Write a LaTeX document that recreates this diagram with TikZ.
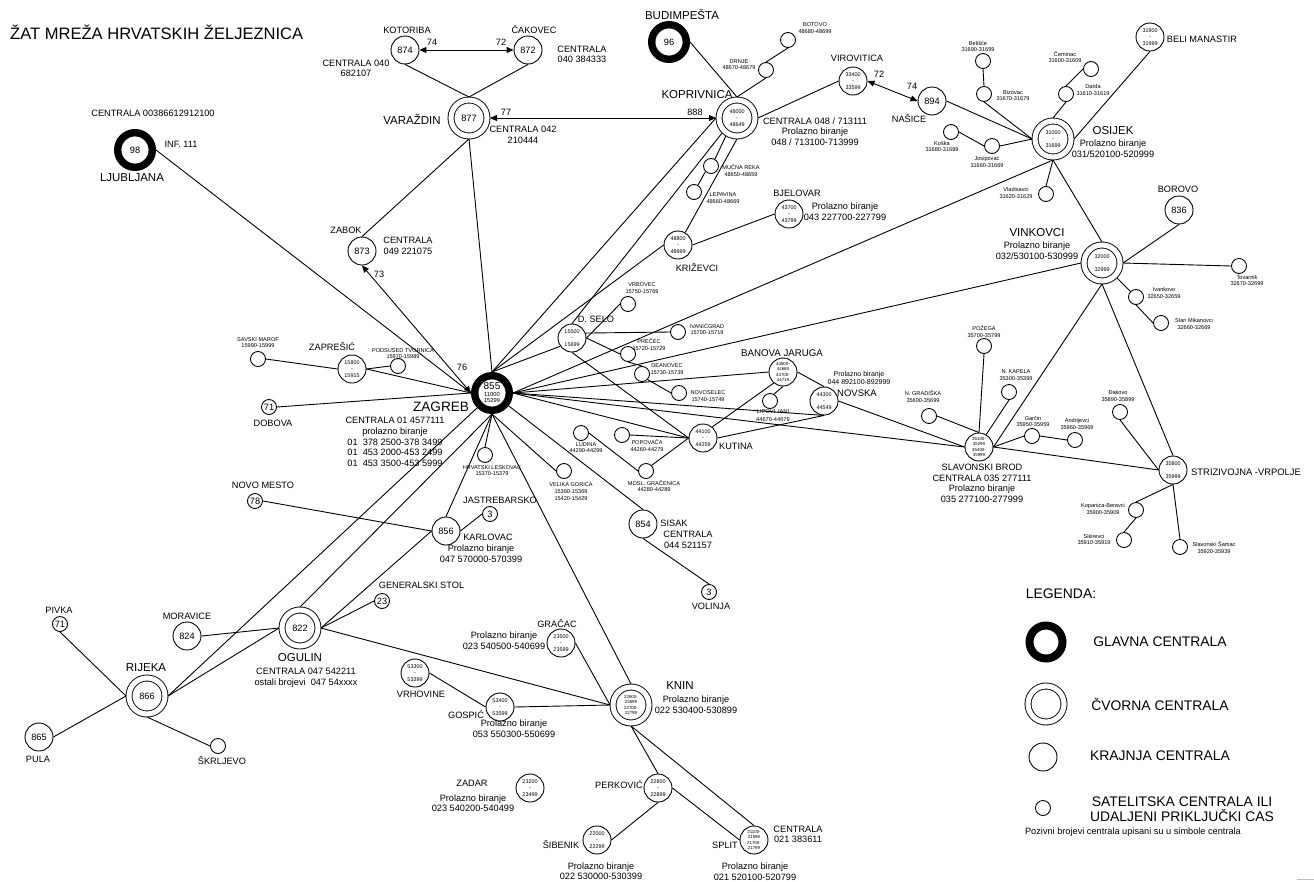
\documentclass[tikz,border=0pt]{standalone}
\usepackage{fontspec}
\setmainfont{Liberation Sans}
\usetikzlibrary{arrows.meta}
\newcommand\fz[2]{\fontsize{#1}{#2}\selectfont}
\newcommand\rng[2]{#1\\-\\#2}
\newcommand\rngf[4]{#1\\#2\\#3\\#4}
\tikzset{
  x=1pt,y=-1pt,
  conn/.style={draw=black,line width=0.9pt},
  biarrow/.style={conn,{Triangle[length=7pt,width=6pt]}-{Triangle[length=7pt,width=6pt]}},
  sat/.style={circle,draw,line width=0.9pt,minimum size=15,inner sep=0,font=\fz{9.2}{10}},
  krj/.style={circle,draw,line width=0.9pt,minimum size=28,inner sep=0,align=center,font=\fz{5.4}{6.7}},
  kfour/.style={krj,font=\fz{4.4}{5.3}},
  num/.style={font=\fz{9.2}{10}},
  cvor/.style={circle,draw,line width=0.9pt,double,double distance=5.1pt,minimum size=36,outer sep=3pt,inner sep=0,align=center,font=\fz{5.4}{6.7}},
  glav/.style={circle,draw,line width=7.4pt,minimum size=34.6,inner sep=0,align=center,font=\fz{9.2}{10}},
  tS/.style={inner sep=0,align=center,font=\fz{5.6}{6.6}},
  tM/.style={inner sep=0,align=center,font=\fz{9.2}{10.6}},
  tL/.style={inner sep=0,align=center,font=\fz{11.5}{13}},
  tB/.style={inner sep=0,align=center,font=\fz{13.6}{15}},
  tN/.style={inner sep=0,align=center,font=\fz{7}{8}},
  tG/.style={inner sep=0,align=center,font=\fz{13.9}{15}}
}
\begin{document}
\begin{tikzpicture}
\useasboundingbox (0,0) rectangle (1314,881);
% ---------- centrals
\node[glav,font=\fz{5.8}{6.5}] (zag) at (492,393) {\lineskiplimit=-100pt {\fz{10}{6.5}855}\\11000\\15299};
\node[glav] (lju) at (135,150) {98};
\node[glav] (bud) at (669,42) {96};
\node[cvor,num] (var) at (469,118) {877};
\node[cvor] (kop) at (737,118) {\rng{48000}{48649}};
\node[cvor] (osi) at (1053,139) {\rng{31000}{31699}};
\node[cvor] (vin) at (1102,263) {\rng{32000}{32999}};
\node[cvor,font=\fz{4.4}{5.3}] (kni) at (631,705) {\rngf{22600-}{22699}{22700-}{22799}};
\node[cvor,num] (ogu) at (300,628) {822};
\node[cvor,num] (rij) at (147,696) {866};
\node[krj,num] (kot) at (405,50) {874};
\node[krj,num] (cak) at (528,50) {872};
\node[krj,num] (zab) at (362,251) {873};
\node[krj,num] (nas) at (932,101) {894};
\node[krj,num] (bor) at (1179,210) {836};
\node[krj,num] (kar) at (446,531) {856};
\node[krj,num] (sis) at (643,524) {854};
\node[krj,num] (mor) at (187,636) {824};
\node[krj,num] (pul) at (39,737) {865};
\node[krj] (vir) at (853,81) {\rng{33400}{33599}};
\node[krj] (bje) at (789,214) {\rng{43700}{43799}};
\node[krj] (kri) at (678,245) {\rng{48800}{48999}};
\node[krj] (bel) at (1150,37) {\rng{31900}{31999}};
\node[krj] (str) at (1173,470) {\rng{35800}{35999}};
\node[krj] (nov) at (824,401) {\rng{44300}{44549}};
\node[krj] (kut) at (703,438) {\rng{44100}{44259}};
\node[krj] (dse) at (572,338) {\rng{15500}{15699}};
\node[krj] (zap) at (352,369) {\rng{15800}{15915}};
\node[krj] (gra) at (561,643) {\rng{23500}{23599}};
\node[krj] (vrh) at (415,673) {\rng{53300}{53399}};
\node[krj] (gos) at (500,707) {\rng{53400}{53599}};
\node[krj] (per) at (658,788) {\rng{22800}{22899}};
\node[krj] (sib) at (597,840) {\rng{22000}{22299}};
\node[krj] (zad) at (530,788) {\rng{23200}{23499}};
\node[kfour] (baj) at (783,372) {\rngf{44600-}{44669}{44700-}{44719}};
\node[kfour] (bro) at (979,447) {\rngf{35100-}{35299}{35400-}{35999}};
\node[kfour] (spl) at (754,840) {\rngf{21100-}{21599}{21700-}{21799}};
\node[sat] (bot) at (788,40) {};
\node[sat] (drn) at (766,70) {};
\node[sat] (muc) at (711,166) {};
\node[sat] (lep) at (694,192) {};
\node[sat] (bls) at (983,61) {};
\node[sat] (biz) at (984,94) {};
\node[sat] (cem) at (1091,69) {};
\node[sat] (dar) at (1066,94) {};
\node[sat] (kos) at (951,132) {};
\node[sat] (jos) at (992,146) {};
\node[sat] (vla) at (1046,194) {};
\node[sat] (tov) at (1239,266) {};
\node[sat] (iva) at (1136,297) {};
\node[sat] (sta) at (1161,323) {};
\node[sat] (pož) at (984,346) {};
\node[sat] (nka) at (1009,392) {};
\node[sat] (ngr) at (929,416) {};
\node[sat] (gar) at (1032,436) {};
\node[sat] (and) at (1075,440) {};
\node[sat] (dak) at (1120,412) {};
\node[sat] (kpn) at (1136,510) {};
\node[sat] (sik) at (1124,540) {};
\node[sat] (sam) at (1180,547) {};
\node[sat] (lip) at (770,401) {};
\node[sat] (nvs) at (679,393) {};
\node[sat] (dea) at (642,374) {};
\node[sat] (pre) at (628,354) {};
\node[sat] (ivg) at (678,332) {};
\node[sat] (vrb) at (628,304) {};
\node[sat] (pop) at (622,435) {};
\node[sat] (lud) at (581,433) {};
\node[sat] (mos) at (646,471) {};
\node[sat] (vgo) at (564,471) {};
\node[sat] (sav) at (258,359) {};
\node[sat] (pod) at (398,366) {};
\node[sat] (hrl) at (485,455) {};
\node[sat] (skr) at (218,746) {};
\node[sat] (dob) at (269,407) {71};
\node[sat] (nme) at (255,501) {78};
\node[sat] (jas) at (490,514) {3};
\node[sat] (vol) at (709,592) {3};
\node[sat] (gen) at (382,601) {23};
\node[sat] (piv) at (60,624) {71};
% ---------- connectors
\draw[biarrow] (kot.east) -- (cak.west);
\draw[biarrow] (var.east) -- (kop.west);
\draw[biarrow] (vir.east) -- (nas.west);
\draw[biarrow] (zab.south) -- (zag.west);
\foreach \a/\b in {lju.east/zag.west, zap.east/zag.west, dob.east/zag.west,
  var.south/zag.north, kop.west/zag.north, kri.west/zag.north, dse.215/zag.north,
  osi.south/zag.east, vin.west/zag.east, baj.west/zag.east, nov.south/zag.east,
  bro.west/zag.east, kut.west/zag.east,
  zag/sis.north, zag.south/vgo.west, zag.south/hrl.north, zag.south/kar.north,
  zag.south/kni.north, zag.south/ogu.north, zag.225/rij.east,
  kot.south/var.north, cak.south/var.north, zab.north/var.south,
  bud.east/kop.north, kop.north/drn.south, drn.north/bot.south, kop.east/vir.west,
  kop.238/muc.60, muc.225/lep.60, kop.south/kri.60, kop.225/dse.north,
  kri.east/bje.west, sav.east/zap.west, zap.east/pod.west,
  nme.east/kar.west, kar.west/ogu.east, kar.east/jas.west,
  ogu.east/gen.west, ogu.east/kni.west, ogu.west/mor.east, ogu.west/rij.east,
  rij.west/piv.south, pul.east/rij.west, rij.south/skr.west,
  gra.east/kni.west, gos.east/kni.west, vrh.east/gos.west,
  kni.south/per.north, kni.south/spl.north, per.east/spl.west, per.south/sib.east,
  sis.south/vol.north,
  dse.east/vrb.west, dse.20/ivg.west, dse.east/pre.west, pre.south/dea.north,
  dea.-45/nvs.west, dse.south/kut.west,
  kut.50/baj.230, baj.south/lip.60, baj.east/nov.north, kut.east/nov.south,
  nov.east/bro.west, pop.east/kut.west, lud.east/mos.west, mos.45/kut.west,
  bro.north/pož.south, bro.north/ngr.east, bro.60/nka.south, bro.east/gar.west,
  gar.east/and.west, bro.east/vin.south, bro.east/str.west,
  vin.south/str.north, dak.south/str.west, str.south/kpn.north, kpn.south/sik.north,
  str.south/sam.north,
  vin.north/osi.south, vin.east/bor.south, vin.east/tov.west, vin.-45/iva.135,
  iva.south/sta.west,
  osi.west/nas.east, osi.west/biz.south, osi.west/jos.east, biz.north/bls.south,
  jos.west/kos.east, osi.north/dar.south, dar.north/cem.west, osi.east/bel.south,
  osi.south/vla.north} {
  \draw[conn] (\a) -- (\b);
}
% ---------- texts
\node[inner sep=0,anchor=west,font=\fz{16.55}{19}] (title) at (10,32) {ŽAT MREŽA HRVATSKIH ŽELJEZNICA};
\node[tM] (l01) at (407,30) {KOTORIBA};
\node[tM] (l02) at (356,68.5) {CENTRALA 040\\682107};
\node[tM] (l03) at (153,113) {CENTRALA 00386612912100};
\node[tM] (l04) at (181,144) {INF. 111};
\node[tL] (l05) at (132,178) {LJUBLJANA};
\node[tL] (l06) at (412,119) {VARAŽDIN};
\node[tM] (l07) at (346,230) {ZABOK};
\node[tM] (l08) at (408,246) {CENTRALA\\049 221075};
\node[tM] (l09) at (379,274) {73};
\node[tM] (l10) at (432,42) {74};
\node[tM] (l11) at (501,42) {72};
\node[tM] (l12) at (534,30) {ČAKOVEC};
\node[tM] (l13) at (582,54.5) {CENTRALA\\040 384333};
\node[tL] (l14) at (682,15) {BUDIMPEŠTA};
\node[tS] (l15) at (815,28) {BOTOVO\\48680-48699};
\node[tS] (l16) at (739,64.5) {DRNJE\\48670-48679};
\node[tM] (l17) at (857,58) {VIROVITICA};
\node[tM] (l18) at (879,74) {72};
\node[tM] (l19) at (912,86) {74};
\node[tL] (l20) at (697,95) {KOPRIVNICA};
\node[tM] (l21) at (506,112) {77};
\node[tM] (l22) at (695,112) {888};
\node[tM] (l23) at (523,135) {CENTRALA 042\\210444};
\node[tM] (l24) at (815,131.5) {CENTRALA 048 / 713111\\Prolazno biranje\\048 / 713100-713999};
\node[tS] (l25) at (741,170.5) {MUČNA REKA\\48650-48659};
\node[tS] (l26) at (723,198) {LEPAVINA\\48660-48669};
\node[tM] (l27) at (797,193) {BJELOVAR};
\node[tM] (l28) at (845,211.5) {Prolazno biranje\\043 227700-227799};
\node[tM] (l29) at (697,268) {KRIŽEVCI};
\node[tS] (l30) at (642,288) {VRBOVEC\\15750-15769};
\node[tS] (l31) at (978,46.5) {Belišće\\31690-31699};
\node[tS] (l32) at (1013,95.5) {Bizovac\\31670-31679};
\node[tS] (l33) at (1065,57) {Čeminac\\31600-31609};
\node[tS] (l34) at (1093,90) {Darda\\31610-31619};
\node[tM] (l35) at (1202,39) {BELI MANASTIR};
\node[tM] (l36) at (909,119) {NAŠICE};
\node[tS] (l37) at (942,146.5) {Koška\\31680-31689};
\node[tS] (l38) at (987,162) {Josipovac\\31660-31669};
\node[tL] (l39) at (1113,131) {OSIJEK};
\node[tM] (l40) at (1113,148.5) {Prolazno biranje\\031/520100-520999};
\node[tS] (l41) at (1016,193) {Vladisavci\\31620-31629};
\node[tM] (l42) at (1178,189) {BOROVO};
\node[tL] (l43) at (1037,233) {VINKOVCI};
\node[tM] (l44) at (1037,250.5) {Prolazno biranje\\032/530100-530999};
\node[tS] (l45) at (1247,280.5) {Tovarnik\\32670-32699};
\node[tS] (l46) at (1164,293) {Ivankovo\\32650-32659};
\node[tS] (l47) at (1194,324) {Stari Mikanovci\\32660-32669};
\node[tS] (l48) at (984,331.5) {POŽEGA\\35700-35799};
\node[tS] (l49) at (1016,375) {N. KAPELA\\35300-35399};
\node[tS] (l50) at (923,396.5) {N. GRADIŠKA\\35600-35699};
\node[tS] (l51) at (1033,421.5) {Garčin\\35950-35959};
\node[tS] (l52) at (1077,424) {Andrijevci\\35960-35969};
\node[tS] (l53) at (1118,396) {Đakovo\\35890-35899};
\node[tM] (l54) at (982,483.5) {SLAVONSKI BROD\\CENTRALA 035 277111\\Prolazno biranje\\035 277100-277999};
\node[tM,anchor=west,font=\fz{9.4}{10.6}] (l55) at (1191,472) {STRIZIVOJNA -VRPOLJE};
\node[tS] (l56) at (1103,509) {Kopanica-Beravci\\35900-35909};
\node[tS] (l57) at (1094,539.5) {Sikirevci\\35910-35919};
\node[tS] (l58) at (1214,547.5) {Slavonski Šamac\\35920-35939};
\node[tN] (l59) at (859,378) {Prolazno biranje\\044 892100-892999};
\node[tM,font=\fz{9.5}{10.6}] (l60) at (857,393) {NOVSKA};
\node[tM,font=\fz{9.7}{10.6}] (l61) at (782,353) {BANOVA JARUGA};
\node[tS,font=\fz{5.7}{8}] (l62) at (773,416) {LIPOVLJANI\\44670-44679};
\node[tM] (l63) at (736,446) {KUTINA};
\node[tM] (l64) at (596,319) {D. SELO};
\node[tS] (l65) at (707,329) {IVANIĆGRAD\\15700-15719};
\node[tS] (l66) at (649,344.5) {PREČEC\\15720-15729};
\node[tS] (l67) at (667,369) {DEANOVEC\\15730-15739};
\node[tS] (l68) at (708,396) {NOVOSELEC\\15740-15749};
\node[tS] (l69) at (647,445.5) {POPOVAČA\\44260-44279};
\node[tS] (l70) at (586,447.5) {LUDINA\\44290-44299};
\node[tS] (l71) at (654,486) {MOSL. GRAČENICA\\44280-44289};
\node[tS] (l72) at (571,491.5) {VELIKA GORICA\\15360-15369\\15420-15429};
\node[tM] (l73) at (332,347) {ZAPREŠIĆ};
\node[tS] (l74) at (258,342.5) {SAVSKI MAROF\\15990-15999};
\node[tS] (l75) at (403,353.5) {PODSUSED TVORNICA\\15970-15989};
\node[tM] (l76) at (462,367) {76};
\node[tB] (l77) at (441,407) {ZAGREB};
\node[tM] (l78) at (273,423) {DOBOVA};
\node[tM] (l79) at (395,442) {CENTRALA 01 4577111\\prolazno biranje\\01~~378 2500-378 3499\\01~~453 2000-453 2499\\01~~453 3500-453 5999};
\node[tM] (l80) at (263,485) {NOVO MESTO};
\node[tS] (l81) at (492,470.5) {HRVATSKI LESKOVAC\\15370-15379};
\node[tM] (l82) at (500,500) {JASTREBARSKO};
\node[tM] (l83) at (488,537) {KARLOVAC};
\node[tM] (l84) at (481,554) {Prolazno biranje\\047 570000-570399};
\node[tM] (l85) at (674,523) {SISAK};
\node[tM] (l86) at (688,540) {CENTRALA\\044 521157};
\node[tM] (l87) at (711,606) {VOLINJA};
\node[tM] (l88) at (421.5,585) {GENERALSKI STOL};
\node[tM] (l89) at (557,624) {GRAČAC};
\node[tM] (l90) at (504,641) {Prolazno biranje\\023 540500-540699};
\node[tM] (l91) at (421,694) {VRHOVINE};
\node[tM] (l92) at (466,715) {GOSPIĆ};
\node[tM] (l93) at (514,729) {Prolazno biranje\\053 550300-550699};
\node[tL] (l94) at (680,686) {KNIN};
\node[tM] (l95) at (696,705) {Prolazno biranje\\022 530400-530899};
\node[tM] (l96) at (187,616) {MORAVICE};
\node[tL] (l97) at (300,658) {OGULIN};
\node[tM] (l98) at (306,677.5) {CENTRALA 047 542211\\ostali brojevi~~047 54xxxx};
\node[tL] (l99) at (146,668) {RIJEKA};
\node[tM] (m01) at (59,610) {PIVKA};
\node[tM] (m02) at (38,759) {PULA};
\node[tM] (m03) at (222,761) {ŠKRLJEVO};
\node[tM] (m04) at (472,783) {ZADAR};
\node[tM] (m05) at (473,803) {Prolazno biranje\\023 540200-540499};
\node[tM] (m06) at (619,785) {PERKOVIĆ};
\node[tM] (m07) at (561,845) {ŠIBENIK};
\node[tM] (m08) at (601,871) {Prolazno biranje\\022 530000-530399};
\node[tM] (m09) at (725,845) {SPLIT};
\node[tM] (m10) at (798,834.5) {CENTRALA\\021 383611};
\node[tM] (m11) at (755,871.5) {Prolazno biranje\\021 520100-520799};
% ---------- legend
\node[tG] (lg0) at (1061,594) {LEGENDA:};
\node[glav,line width=8pt,minimum size=33] (lg1) at (1046,642) {};
\node[cvor] (lg2) at (1046,704) {};
\node[krj] (lg3) at (1043,757) {};
\node[sat] (lg4) at (1043,808) {};
\node[tG] (lg5) at (1160,642) {GLAVNA CENTRALA};
\node[tG] (lg6) at (1160,704) {ČVORNA CENTRALA};
\node[tG] (lg7) at (1160,756) {KRAJNJA CENTRALA};
\node[tG] (lg8) at (1182,809.5) {SATELITSKA CENTRALA ILI\\UDALJENI PRIKLJUČKI CAS};
\node[tN,font=\fz{9.2}{10}] (lg9) at (1133,832) {Pozivni brojevi centrala upisani su u simbole centrala};
\coordinate (ma) at (1297,879.5);
\coordinate (mb) at (1314,879.5);
\draw[black!25,line width=0.8pt] (ma) -- (mb);
\end{tikzpicture}
\end{document}
